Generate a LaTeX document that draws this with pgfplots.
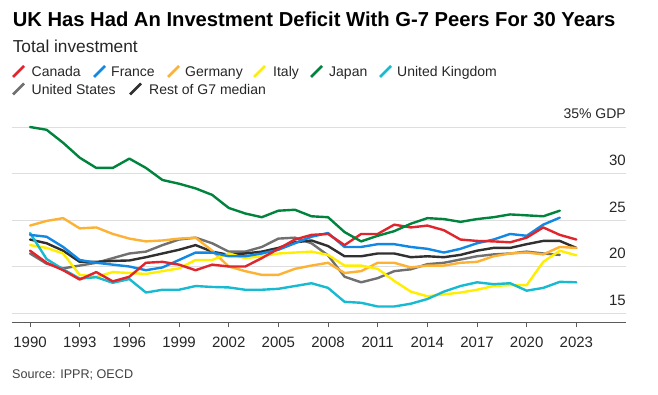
\documentclass[border=0pt]{standalone}
\usepackage{fontspec}
\setmainfont{Liberation Sans}
\usepackage{pgfplots}
\usepackage{pgfplotstable}
\pgfplotsset{compat=1.18}
\definecolor{cCanada}{RGB}{224,38,44}
\definecolor{cFrance}{RGB}{16,136,228}
\definecolor{cGermany}{RGB}{253,178,52}
\definecolor{cItaly}{RGB}{255,238,0}
\definecolor{cJapan}{RGB}{0,132,61}
\definecolor{cUK}{RGB}{24,186,210}
\definecolor{cUS}{RGB}{112,112,112}
\definecolor{cMedian}{RGB}{48,48,48}
\definecolor{cGrid}{RGB}{222,222,222}
\definecolor{cAxis}{RGB}{90,90,90}

\pgfplotstableread{
year Canada France Germany Italy Japan UK US Median
1990 21.7 23.4 24.4 22.3 35.0 23.6 21.4 22.9
1991 20.4 23.2 24.9 22.0 34.7 20.8 20.3 22.5
1992 19.6 22.1 25.2 21.4 33.3 19.7 19.8 21.7
1993 18.6 20.7 24.1 19.1 31.7 18.7 20.1 20.5
1994 19.4 20.4 24.2 18.9 30.6 18.85 20.4 20.5
1995 18.4 20.2 23.5 19.4 30.6 18.25 20.9 20.6
1996 18.9 20.0 23.0 19.3 31.6 18.65 21.4 20.65
1997 20.4 19.6 22.7 19.2 30.6 17.2 21.6 21.0
1998 20.5 19.9 22.8 19.5 29.3 17.5 22.3 21.4
1999 20.2 20.7 23.0 19.8 28.9 17.5 22.9 21.8
2000 19.6 21.5 23.1 20.7 28.4 17.9 23.1 22.3
2001 20.2 21.5 21.7 20.7 27.7 17.8 22.5 21.6
2002 20.0 21.1 20.0 21.4 26.3 17.75 21.6 21.25
2003 20.0 21.1 19.5 20.9 25.7 17.5 21.6 21.4
2004 20.9 21.4 19.1 21.1 25.3 17.5 22.1 21.6
2005 21.9 21.8 19.1 21.4 26.0 17.6 23.0 22.0
2006 22.9 22.5 19.75 21.5 26.1 17.9 23.1 22.6
2007 23.4 23.2 20.1 21.6 25.4 18.2 22.5 22.8
2008 23.5 23.6 20.4 21.25 25.3 17.7 21.2 22.2
2009 22.3 22.1 19.3 20.1 23.7 16.2 18.9 21.1
2010 23.5 22.1 19.5 20.1 22.7 16.1 18.3 21.1
2011 23.5 22.4 20.4 19.75 23.3 15.7 18.75 21.4
2012 24.5 22.4 20.4 18.45 23.8 15.7 19.5 21.4
2013 24.2 22.1 19.9 17.3 24.6 16.0 19.7 21.0
2014 24.4 21.9 20.1 16.8 25.2 16.5 20.25 21.1
2015 23.9 21.5 20.1 17.0 25.1 17.3 20.4 21.0
2016 22.9 21.9 20.4 17.2 24.8 17.9 20.75 21.25
2017 22.75 22.5 20.5 17.5 25.1 18.3 21.1 21.7
2018 22.7 22.9 21.1 17.9 25.3 18.1 21.3 22.0
2019 22.6 23.5 21.4 18.0 25.6 18.2 21.4 22.0
2020 23.1 23.3 21.5 18.0 25.5 17.4 21.6 22.4
2021 24.2 24.5 21.3 20.5 25.4 17.7 21.4 22.75
2022 23.4 25.25 22.1 21.7 26.0 18.35 21.25 22.75
2023 22.9 nan 22.0 21.2 nan 18.3 nan 22.0
}\datatable

\begin{document}
\begin{tikzpicture}[x=1pt,y=1pt]
\useasboundingbox (0,0) rectangle (658,394);
% title block
\node[anchor=base west, inner sep=0pt, font=\fontsize{20.2}{22}\selectfont\bfseries] at (12.6,367) {UK Has Had An Investment Deficit With G-7 Peers For 30 Years};
\node[anchor=base west, inner sep=0pt, font=\fontsize{17.3}{19}\selectfont, text=black!85] at (12.6,341) {Total investment};
% legend
\begin{scope}[font=\fontsize{14}{16}\selectfont]
\foreach \sx/\tx/\col/\lab in {13/31.5/cCanada/Canada, 94/111/cFrance/France, 168/185/cGermany/Germany, 254/273/cItaly/Italy, 311/329/cJapan/Japan, 380/397/cUK/United Kingdom}{
  \draw[\col, line width=2.6pt] (\sx,394-77) -- (\sx+11,394-66);
  \node[anchor=base west, inner sep=0pt, text=black!85] at (\tx,394-77) {\lab};
}
\foreach \sx/\tx/\col/\lab in {13/31.5/cUS/United States, 130/149/cMedian/Rest of G7 median}{
  \draw[\col, line width=2.6pt] (\sx,394-94.5) -- (\sx+11,394-83.5);
  \node[anchor=base west, inner sep=0pt, text=black!85] at (\tx,394-94.5) {\lab};
}
\end{scope}
\node[anchor=base west, inner sep=0pt, font=\fontsize{12.6}{14}\selectfont, text=black!75] at (12,394-378) {Source: IPPR; OECD};

\begin{axis}[
  at={(12pt,71.7pt)}, anchor=south west,
  scale only axis, width=614pt, height=195.3pt,
  xmin=1988.91, xmax=2026, ymin=14, ymax=35,
  axis x line*=bottom, axis y line*=right,
  y axis line style={draw=none},
  x axis line style={draw=cAxis, line width=0.9pt},
  xtick={1990,1993,1996,1999,2002,2005,2008,2011,2014,2017,2020,2023},
  xticklabels={1990,1993,1996,1999,2002,2005,2008,2011,2014,2017,2020,2023},
  xtick align=outside, major tick length=5pt,
  xtick style={draw=cAxis, line width=0.9pt},
  ytick={15,20,25,30,35},
  yticklabels={15,20,25,30,{\fontsize{14}{14}\selectfont 35\% GDP}},
  ytick style={draw=none},
  ymajorgrids, grid style={draw=cGrid, line width=0.9pt},
  /pgf/number format/assume math mode=true,
  yticklabel style={anchor=base east, inner sep=0pt, yshift=8pt, font=\fontsize{15}{15}\selectfont, text=black!85},
  xticklabel style={anchor=north, inner sep=0pt, yshift=-9.5pt, font=\fontsize{15}{15}\selectfont, text=black!85},
  clip=false,
  every axis plot/.append style={line width=2.4pt, line join=round, line cap=round, no markers},
]
\addplot[cUS] table[x=year, y=US] {\datatable};
\addplot[cMedian] table[x=year, y=Median] {\datatable};
\addplot[cGermany] table[x=year, y=Germany] {\datatable};
\addplot[cItaly] table[x=year, y=Italy] {\datatable};
\addplot[cUK] table[x=year, y=UK] {\datatable};
\addplot[cFrance] table[x=year, y=France] {\datatable};
\addplot[cCanada] table[x=year, y=Canada] {\datatable};
\addplot[cJapan] table[x=year, y=Japan] {\datatable};
\end{axis}
\end{tikzpicture}
\end{document}
